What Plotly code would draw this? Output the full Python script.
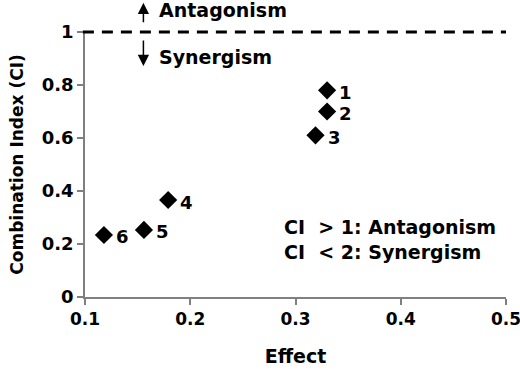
import plotly.graph_objects as go

effect = [0.330, 0.330, 0.319, 0.179, 0.156, 0.118]
ci = [0.78, 0.70, 0.61, 0.366, 0.253, 0.234]
labels = ["1", "2", "3", "4", "5", "6"]
x_ticks = [0.1, 0.2, 0.3, 0.4, 0.5]
x_ticktext = ["0.1", "0.2", "0.3", "0.4", "0.5"]
y_ticks = [0, 0.2, 0.4, 0.6, 0.8, 1]
y_ticktext = ["0", "0.2", "0.4", "0.6", "0.8", "1"]

FONT = "DejaVu Sans"

def f(size):
    return dict(family=FONT, size=size, color="black", weight="bold")

fig = go.Figure()
fig.add_trace(go.Scatter(
    x=effect, y=ci, mode="markers",
    marker=dict(symbol="diamond", size=14, color="black"),
    showlegend=False, cliponaxis=False, hoverinfo="skip",
))

for xi, yi, lab in zip(effect, ci, labels):
    fig.add_annotation(x=xi, y=yi, text=lab, showarrow=False,
                       xanchor="left", yanchor="middle", xshift=10, yshift=-2,
                       font=f(18))

# dashed reference line at CI = 1
fig.add_shape(type="line", xref="paper", yref="paper", x0=-0.005, x1=1.0, y0=1, y1=1,
              line=dict(color="black", width=3, dash="11px,8px"))

# arrows
fig.add_annotation(x=0.1555, y=1.11, xref="x", yref="paper", ax=0, ay=21,
                   text="", showarrow=True, arrowhead=2, arrowsize=1.5, arrowwidth=1.5,
                   arrowcolor="black", standoff=0)
fig.add_annotation(x=0.1555, y=0.872, xref="x", yref="paper", ax=0, ay=-27,
                   text="", showarrow=True, arrowhead=2, arrowsize=1.5, arrowwidth=1.5,
                   arrowcolor="black", standoff=0)
fig.add_annotation(x=0.168, y=1.083, xref="x", yref="paper", text="Antagonism",
                   showarrow=False, xanchor="left", yanchor="middle", font=f(19))
fig.add_annotation(x=0.168, y=0.906, xref="x", yref="paper", text="Synergism",
                   showarrow=False, xanchor="left", yanchor="middle", font=f(19))

fig.add_annotation(x=0.287, y=0.264, xref="x", yref="y", text="CI  > 1: Antagonism",
                   showarrow=False, xanchor="left", yanchor="middle", font=f(19))
fig.add_annotation(x=0.287, y=0.17, xref="x", yref="y", text="CI  < 2: Synergism",
                   showarrow=False, xanchor="left", yanchor="middle", font=f(19))

fig.update_layout(
    width=520, height=369,
    margin=dict(l=85, r=14, t=32, b=72),
    plot_bgcolor="white", paper_bgcolor="white",
    font=dict(family=FONT, color="black"),
    xaxis=dict(range=[0.1, 0.5], tickvals=x_ticks, ticktext=x_ticktext, automargin=False,
               ticklabeloverflow="allow",
               showgrid=False, zeroline=False, showline=True, linecolor="#808080", linewidth=1.5,
               ticks="outside", ticklen=6, tickcolor="#808080", tickwidth=1.5,
               tickfont=f(17),
               title=dict(text="Effect", font=f(19), standoff=22)),
    yaxis=dict(range=[0, 1], tickvals=y_ticks, ticktext=y_ticktext, automargin=False,
               ticklabeloverflow="allow",
               showgrid=False, zeroline=False, showline=True, linecolor="#808080", linewidth=1.5,
               ticks="outside", ticklen=6, tickcolor="#808080", tickwidth=1.5,
               tickfont=f(18),
               title=dict(text="Combination Index (CI)", font=f(17), standoff=14)),
)

fig.write_html("out.html", config={"displayModeBar": False},
               post_script="document.body.style.margin='0';document.body.style.padding='0';")
